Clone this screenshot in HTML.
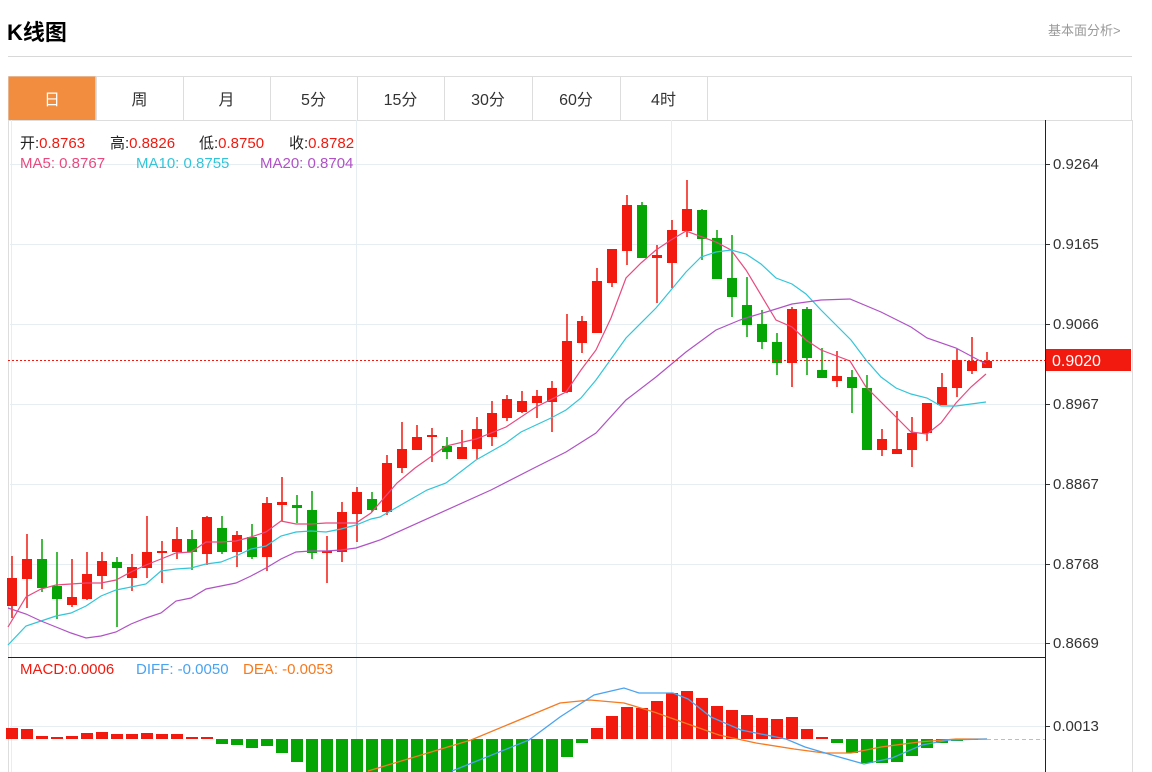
<!DOCTYPE html>
<html><head><meta charset="utf-8"><style>
body{margin:0;background:#fff;font-family:"Liberation Sans","Noto Sans CJK SC",sans-serif;}
#w{position:relative;width:1152px;height:772px;overflow:hidden;}
.t{position:absolute;white-space:nowrap;}
.l{position:absolute;white-space:nowrap;font-size:15px;}
.r{color:#f2190f}
</style></head><body><div id="w">
<div class="t" style="left:7px;top:15px;font-size:22px;font-weight:bold;color:#000;">K线图</div>
<div class="t" style="left:1048px;top:20px;font-size:13px;color:#999;">基本面分析&gt;</div>
<svg id="s" width="1152" height="772" style="position:absolute;left:0;top:0" xmlns="http://www.w3.org/2000/svg"></svg>
<div class="l" style="left:20px;top:132px;color:#222;">开:<span class="r">0.8763</span></div>
<div class="l" style="left:110px;top:132px;color:#222;">高:<span class="r">0.8826</span></div>
<div class="l" style="left:199px;top:132px;color:#222;">低:<span class="r">0.8750</span></div>
<div class="l" style="left:289px;top:132px;color:#222;">收:<span class="r">0.8782</span></div>
<div class="l" style="left:20px;top:155px;color:#e84a7f">MA5: 0.8767</div>
<div class="l" style="left:136px;top:155px;color:#32c5d9">MA10: 0.8755</div>
<div class="l" style="left:260px;top:155px;color:#b052c5">MA20: 0.8704</div>
<div class="l" style="left:20px;top:661px;color:#f2190f">MACD:0.0006</div>
<div class="l" style="left:136px;top:661px;color:#4aa3f0">DIFF: -0.0050</div>
<div class="l" style="left:243px;top:661px;color:#f57a20">DEA: -0.0053</div>
</div>
<script>
var s=document.getElementById('s'),h='';
function L(x1,y1,x2,y2,c,w,d){h+='<line x1="'+x1+'" y1="'+y1+'" x2="'+x2+'" y2="'+y2+'" stroke="'+c+'" stroke-width="'+(w||1)+'"'+(d?' stroke-dasharray="'+d+'"':'')+'/>';}
function R(x,y,w,hh,c,st){h+='<rect x="'+x+'" y="'+y+'" width="'+w+'" height="'+hh+'" fill="'+c+'"'+(st?' stroke="'+st+'"':'')+'/>';}
function T(x,y,t,c,sz,a){h+='<text x="'+x+'" y="'+y+'" fill="'+c+'" font-size="'+(sz||14)+'" font-family="Liberation Sans,Noto Sans CJK SC,sans-serif"'+(a?' text-anchor="'+a+'"':'')+'>'+t+'</text>';}
function P(pts,c,w){h+='<polyline fill="none" stroke="'+c+'" stroke-width="'+(w||1.2)+'" points="'+pts.map(p=>p.join(',')).join(' ')+'"/>';}
L(8,56.5,1132,56.5,'#d8d8d8');
R(8.5,76.5,1123,44,'#fff','#ddd');
R(8.5,76.5,87,44,'#f28c3e');
var tabs=['日','周','月','5分','15分','30分','60分','4时'],tx=[8,96,183,270,357,444,532,620,707];
for(var i=0;i<8;i++){ if(i>0)L(tx[i]+.5,76,tx[i]+.5,120,'#ddd'); T((tx[i]+tx[i+1])/2,105,tabs[i],i==0?'#fff':'#333',16,'middle');}
L(707.5,76,707.5,120,'#ddd');
L(8.5,120,8.5,772,'#ddd');L(1132.5,120,1132.5,772,'#ddd');L(8,120.5,1132,120.5,'#ddd');
var gy=[164,244,324,404,484,564,643],gl=['0.9264','0.9165','0.9066','0.8967','0.8867','0.8768','0.8669'];
for(i=0;i<7;i++){L(10,gy[i]+.5,1045,gy[i]+.5,'#e6edf3');L(1045,gy[i]+.5,1050,gy[i]+.5,'#333');T(1053,gy[i]+5,gl[i],'#333',15);}
[11,356,671].forEach(x=>L(x+.5,120,x+.5,772,'#e6edf3'));
L(10,726.5,1045,726.5,'#e6edf3');L(1045,726.5,1050,726.5,'#333');T(1053,731,'0.0013','#333',15);
L(8,657.5,1045,657.5,'#222');L(1045.5,120,1045.5,772,'#222');
var C=[[578,606,556,618,1],[559,579,534,608,1],[559,588,539,592,0],[586,599,552,619,0],[597,605,559,607,1],[574,599,552,600,1],[561,576,552,589,1],[562,568,557,627,0],[567,578,554,591,1],[552,568,516,578,1],[551,553,541,583,1],[539,552,527,559,1],[539,552,530,570,0],[517,554,516,565,1],[528,552,516,554,0],[535,552,531,567,1],[537,557,524,559,0],[503,557,497,571,1],[502,505,477,521,1],[505,508,495,523,0],[510,553,491,559,0],[551,553,536,583,1],[512,552,502,562,1],[492,514,487,542,1],[499,510,492,512,0],[463,512,455,515,1],[449,468,422,473,1],[437,450,425,450,1],[435,437,428,462,1],[446,452,437,459,0],[447,459,430,459,1],[429,449,417,459,1],[413,437,401,446,1],[399,418,395,421,1],[401,412,391,413,1],[396,403,390,418,1],[388,402,381,432,1],[341,392,314,393,1],[321,343,316,353,1],[281,333,268,333,1],[249,283,249,287,1],[205,251,195,265,1],[205,258,202,258,0],[255,258,245,303,1],[230,263,220,288,1],[209,231,180,237,1],[210,239,209,260,0],[238,279,230,279,0],[278,297,235,317,0],[305,325,277,337,0],[324,342,310,349,0],[342,363,333,375,0],[309,363,307,387,1],[309,358,307,375,0],[370,378,348,378,0],[376,381,351,387,1],[377,388,370,413,0],[388,450,375,450,0],[439,450,429,456,1],[449,454,411,454,1],[433,450,417,467,1],[403,433,403,441,1],[387,405,373,405,1],[360,388,349,397,1],[361,371,337,374,1],[361,368,352,368,1]];
var RED='#f2190f',GR='#05a505';
C.forEach((c,i)=>{var x=12+15*i,col=c[4]?RED:GR;L(x,c[2],x,c[3],col,1.5);R(x-5,c[0],10,Math.max(2,c[1]-c[0]),col);});
P([[8,627],[26,597],[41,589],[56,585],[71,584],[86,583],[101,583],[116,580],[131,572],[146,565],[161,559],[176,553],[191,552],[206,542],[221,542],[236,541],[251,537],[266,532],[281,521],[296,524],[311,524],[326,523],[341,523],[356,523],[371,513],[397,483],[415,468],[446,446],[476,439],[506,427],[536,407],[566,392],[581,370],[596,350],[611,318],[626,278],[641,263],[656,250],[671,240],[686,231],[716,242],[731,250],[746,270],[776,320],[792,327],[806,340],[821,350],[850,361],[866,387],[896,417],[911,432],[927,434],[941,423],[956,403],[971,387],[986,374]],'#e84a7f');
P([[8,645],[26,626],[41,621],[56,616],[71,613],[86,606],[101,596],[116,590],[131,587],[146,584],[161,571],[176,569],[191,568],[206,564],[221,562],[236,556],[251,549],[266,546],[281,536],[296,532],[311,531],[326,532],[341,529],[356,525],[371,519],[380,517],[427,490],[446,483],[476,460],[506,443],[521,432],[551,418],[566,410],[581,398],[596,380],[626,338],[656,308],[671,290],[686,272],[701,257],[716,252],[731,250],[746,254],[761,264],[776,278],[792,284],[806,294],[821,310],[851,340],[866,360],[881,377],[896,388],[911,394],[927,398],[941,406],[956,406],[986,402]],'#32c5d9');
P([[8,608],[26,614],[41,621],[56,627],[71,633],[86,638],[101,636],[116,632],[131,624],[146,618],[161,613],[176,601],[191,598],[206,589],[221,586],[236,583],[251,576],[266,568],[281,559],[296,552],[311,551],[326,551],[341,550],[356,548],[371,543],[380,540],[491,490],[536,467],[566,452],[596,433],[626,400],[656,377],[686,352],[716,330],[740,320],[746,318],[776,309],[792,304],[821,300],[850,299],[881,312],[911,327],[927,338],[956,348],[986,364]],'#b052c5');
L(8,360.5,1045,360.5,RED,1,'2,2');R(1046,349,85,22,RED);T(1052,366,'0.9020','#fff',16);
var Z=739,H=[728,729,736,737,736,733,732,734,734,733,734,734,737,737,744,745,748,746,753,762,775,775,775,775,775,775,775,775,775,775,775,775,775,775,775,775,775,757,743,728,716,707,708,701,693,691,698,706,710,715,718,719,717,729,737,743,753,763,763,762,756,748,743,741,740,739];
H.forEach((v,i)=>{var x=12+15*i;if(v<Z)R(x-6,v,12,Z-v,RED);else if(v>Z)R(x-6,Z,12,v-Z,GR);});
L(987,739.5,1045,739.5,'#9cc8e8',1,'4,3');
P([[368,771],[471,740],[560,703],[590,700],[624,703],[654,712],[685,723],[719,735],[756,743],[794,749],[824,753],[851,753],[881,747],[919,742],[956,739],[987,739]],'#f57a20',1.3);
P([[452,771],[529,740],[560,717],[594,695],[624,688],[639,693],[673,693],[688,699],[711,717],[741,730],[786,739],[805,747],[832,755],[864,764],[892,758],[922,745],[949,740],[987,739]],'#4aa3f0',1.3);
s.innerHTML=h;
</script>
</body></html>
